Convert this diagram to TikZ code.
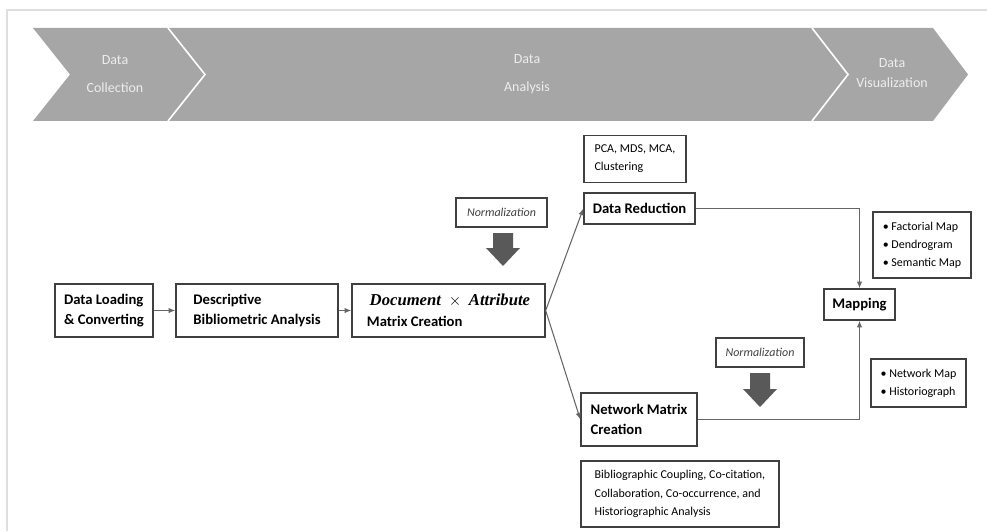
\documentclass[tikz,border=0pt]{standalone}
\usepackage{fontspec}
\setmainfont{Carlito}
\newfontfamily\docfont{Liberation Serif}
\usetikzlibrary{arrows.meta}
\definecolor{bandgray}{HTML}{A6A6A6}
\definecolor{boxline}{HTML}{404040}
\definecolor{blockgray}{HTML}{595959}
\begin{document}
\begin{tikzpicture}[x=0.75pt, y=-0.75pt,
  box/.style={draw=boxline, line width=1pt, fill=white, align=left, inner sep=0pt},
  mainbox/.style={box, font=\fontsize{11}{15.5}\selectfont\bfseries},
  notebox/.style={box, font=\fontsize{9}{13.5}\selectfont},
  normbox/.style={box, font=\fontsize{9}{11}\selectfont\itshape, text=black!75},
  conn/.style={draw=black!60, line width=0.8pt, -{Latex[length=5pt,width=4pt]}},
  stage/.style={text=white!93!black, align=center, font=\fontsize{10.5}{21}\selectfont}]
  \useasboundingbox (0,0) rectangle (987,531);

  % Page frame
  \draw[gray!25, line width=2pt] (7,531) -- (7,10) -- (987,10);

  % Chevron band
  \fill[bandgray] (33,28) -- (933,28) -- (968,74.5) -- (933,121) -- (33,121) -- (70,74.5) -- cycle;
  \draw[white, line width=1.2pt] (168,28) -- (205,74.5) -- (168,121);
  \draw[white, line width=1.2pt] (812,28) -- (848,74.5) -- (812,121);
  \node[stage] (collect) at (115,74) {Data\\Collection};
  \node[stage] (analysis) at (527,74) {Data\\Analysis};
  \node[stage, font=\fontsize{10.5}{14.5}\selectfont] (visual) at (892,73) {Data\\Visualization};

  % Main row
  \node[mainbox, minimum width=98pt*0.75, minimum height=53pt*0.75] (load) at (104,310.5) {Data Loading\\\& Converting};
  \node[mainbox, minimum width=162pt*0.75, minimum height=53pt*0.75] (desc) at (257,310.5) {Descriptive\\Bibliometric Analysis};
  \node[mainbox, minimum width=193pt*0.75, minimum height=53pt*0.75] (doc) at (448.5,310.5)
    {{\docfont\itshape\fontsize{12.5}{15.5}\selectfont\,Document ${}\times{}$ Attribute}\\Matrix Creation};

  % Upper branch
  \node[notebox, minimum width=102pt*0.75, minimum height=47pt*0.75] (pca) at (635,159) {PCA, MDS, MCA,\\Clustering};
  \node[mainbox, minimum width=111pt*0.75, minimum height=31pt*0.75] (red) at (639.5,208.5) {Data Reduction};
  \node[normbox, minimum width=91pt*0.75, minimum height=29pt*0.75] (norma) at (501.5,212.5) {Normalization};
  \fill[blockgray] (493,233) -- (513,233) -- (513,248) -- (520,248) -- (503,266)
    -- (486,248) -- (493,248) -- cycle;

  % Lower branch
  \node[mainbox, minimum width=116pt*0.75, minimum height=53pt*0.75] (net) at (639,419.5) {Network Matrix\\Creation};
  \node[notebox, minimum width=198pt*0.75, minimum height=66pt*0.75, font=\fontsize{9}{14}\selectfont] (bib) at (680,494)
    {Bibliographic Coupling, Co-citation,\\Collaboration, Co-occurrence, and\\Historiographic Analysis};
  \node[normbox, minimum width=88pt*0.75, minimum height=29pt*0.75] (normb) at (760,352.5) {Normalization};
  \fill[blockgray] (750,373) -- (770,373) -- (770,389) -- (777,389) -- (760,407)
    -- (743,389) -- (750,389) -- cycle;

  % Mapping
  \node[mainbox, minimum width=71pt*0.75, minimum height=31pt*0.75] (map) at (859.5,304.5) {Mapping};
  \node[notebox, minimum width=98pt*0.75, minimum height=66pt*0.75] (fact) at (922,245)
    {• Factorial Map\\• Dendrogram\\• Semantic Map};
  \node[notebox, minimum width=95pt*0.75, minimum height=48pt*0.75] (netmap) at (918.5,383)
    {• Network Map\\• Historiograph};

  % Connectors
  \draw[conn] (load) -- (desc);
  \draw[conn] (desc) -- (doc);
  \draw[conn] (doc.east) -- (red.west);
  \draw[conn] (doc.east) -- (net.west);
  \draw[conn] (red.east) -| (map.north);
  \draw[conn] (net.east) -| (map.south);
\end{tikzpicture}
\end{document}
